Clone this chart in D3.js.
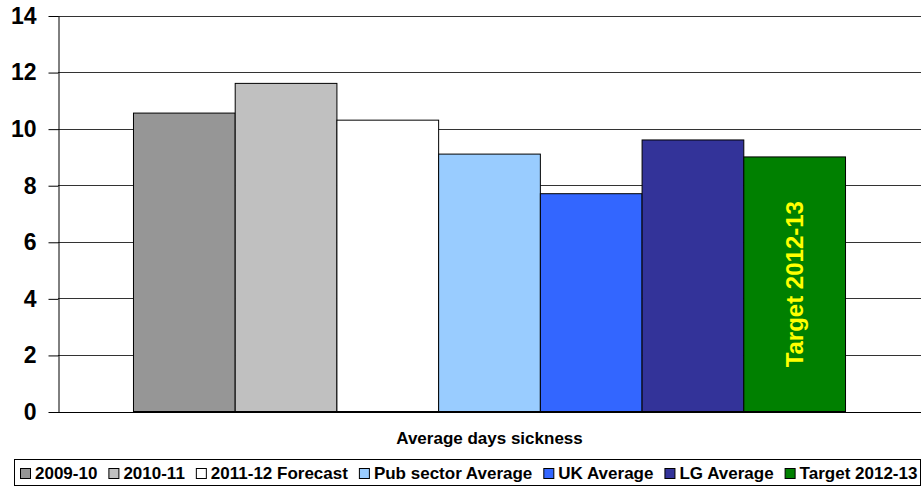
<!DOCTYPE html>
<html>
<head>
<meta charset="utf-8">
<script src="https://cdn.jsdelivr.net/npm/d3@7"></script>
<style>
  html, body { margin: 0; padding: 0; background: #fff; }
  svg { display: block; font-family: "Liberation Sans", Arial, sans-serif; }
</style>
</head>
<body>
<svg id="chart" width="921" height="488"></svg>
<script>
// Average days sickness, one category with seven comparison series
const category = "Average days sickness";
const seriesNames = ["2009-10", "2010-11", "2011-12 Forecast", "Pub sector Average", "UK Average", "LG Average", "Target 2012-13"];
const seriesValues = [10.55, 11.6, 10.3, 9.1, 7.7, 9.6, 9.0];
const seriesColors = ["#969696", "#c0c0c0", "#ffffff", "#99ccff", "#3366ff", "#333399", "#008000"];
const yTicks = [0, 2, 4, 6, 8, 10, 12, 14];
const barLabel = "Target 2012-13";

const svg = d3.select("#chart");
const plot = { left: 58, right: 921, top: 15.5, bottom: 411.5 };

const y = d3.scaleLinear().domain([0, 14]).range([plot.bottom, plot.top]);
const xCat = d3.scaleBand().domain([category]).range([plot.left, plot.right])
  .paddingInner(0).paddingOuter(0.106);
const xSer = d3.scaleBand().domain(seriesNames).range([0, xCat.bandwidth()]).padding(0);

// horizontal gridlines
svg.append("g").selectAll("line").data(yTicks.filter(t => t > 0)).join("line")
  .attr("x1", plot.left).attr("x2", plot.right)
  .attr("y1", d => Math.round(y(d)) + 0.5).attr("y2", d => Math.round(y(d)) + 0.5)
  .attr("stroke", "#333").attr("stroke-width", 1);

// bars
const bars = svg.append("g").attr("transform", `translate(${xCat(category)},0)`);
bars.selectAll("rect").data(seriesNames).join("rect")
  .attr("x", d => xSer(d))
  .attr("y", (d, i) => y(seriesValues[i]))
  .attr("width", xSer.bandwidth())
  .attr("height", (d, i) => y(0) - y(seriesValues[i]))
  .attr("fill", (d, i) => seriesColors[i])
  .attr("stroke", "#000").attr("stroke-width", 1);

// vertical label inside the target bar
const ti = seriesNames.indexOf(barLabel);
const tx = xCat(category) + xSer(barLabel) + xSer.bandwidth() / 2;
const ty = (y(seriesValues[ti]) + y(0)) / 2;
svg.append("text")
  .attr("transform", `translate(${tx},${ty}) rotate(-90)`)
  .attr("text-anchor", "middle").attr("dy", "0.36em")
  .attr("fill", "#ffff00").attr("font-weight", "bold").attr("font-size", 24)
  .text(barLabel);

// y axis
const yAxis = d3.axisLeft(y).tickValues(yTicks).tickSize(10).tickPadding(12).tickSizeOuter(0);
const ga = svg.append("g").attr("transform", `translate(${plot.left + 0.5},0.5)`).call(yAxis);
ga.select(".domain").attr("stroke", "#000");
ga.selectAll(".tick line").attr("stroke", "#000");
ga.selectAll(".tick text").attr("font-size", 23).attr("font-weight", "bold")
  .attr("font-family", "Liberation Sans, Arial, sans-serif").attr("fill", "#000");

// x axis baseline
svg.append("line")
  .attr("x1", plot.left).attr("x2", plot.right)
  .attr("y1", Math.round(y(0)) + 0.5).attr("y2", Math.round(y(0)) + 0.5)
  .attr("stroke", "#000");

// category title
svg.append("text")
  .attr("x", xCat(category) + xCat.bandwidth() / 2).attr("y", 444)
  .attr("text-anchor", "middle").attr("font-size", 17).attr("font-weight", "bold")
  .text(category);

// legend
const legend = svg.append("g");
legend.append("rect").attr("x", 14.5).attr("y", 459.5).attr("width", 906).attr("height", 26)
  .attr("fill", "#fff").attr("stroke", "#000");
let lx = 20;
seriesNames.forEach((name, i) => {
  legend.append("rect").attr("x", lx + 0.5).attr("y", 468.5).attr("width", 10).attr("height", 10)
    .attr("fill", seriesColors[i]).attr("stroke", "#000");
  const t = legend.append("text").attr("x", lx + 15).attr("y", 479)
    .attr("font-size", 17).attr("font-weight", "bold").text(name);
  lx += 15 + t.node().getComputedTextLength() + 11;
});
</script>
</body>
</html>
